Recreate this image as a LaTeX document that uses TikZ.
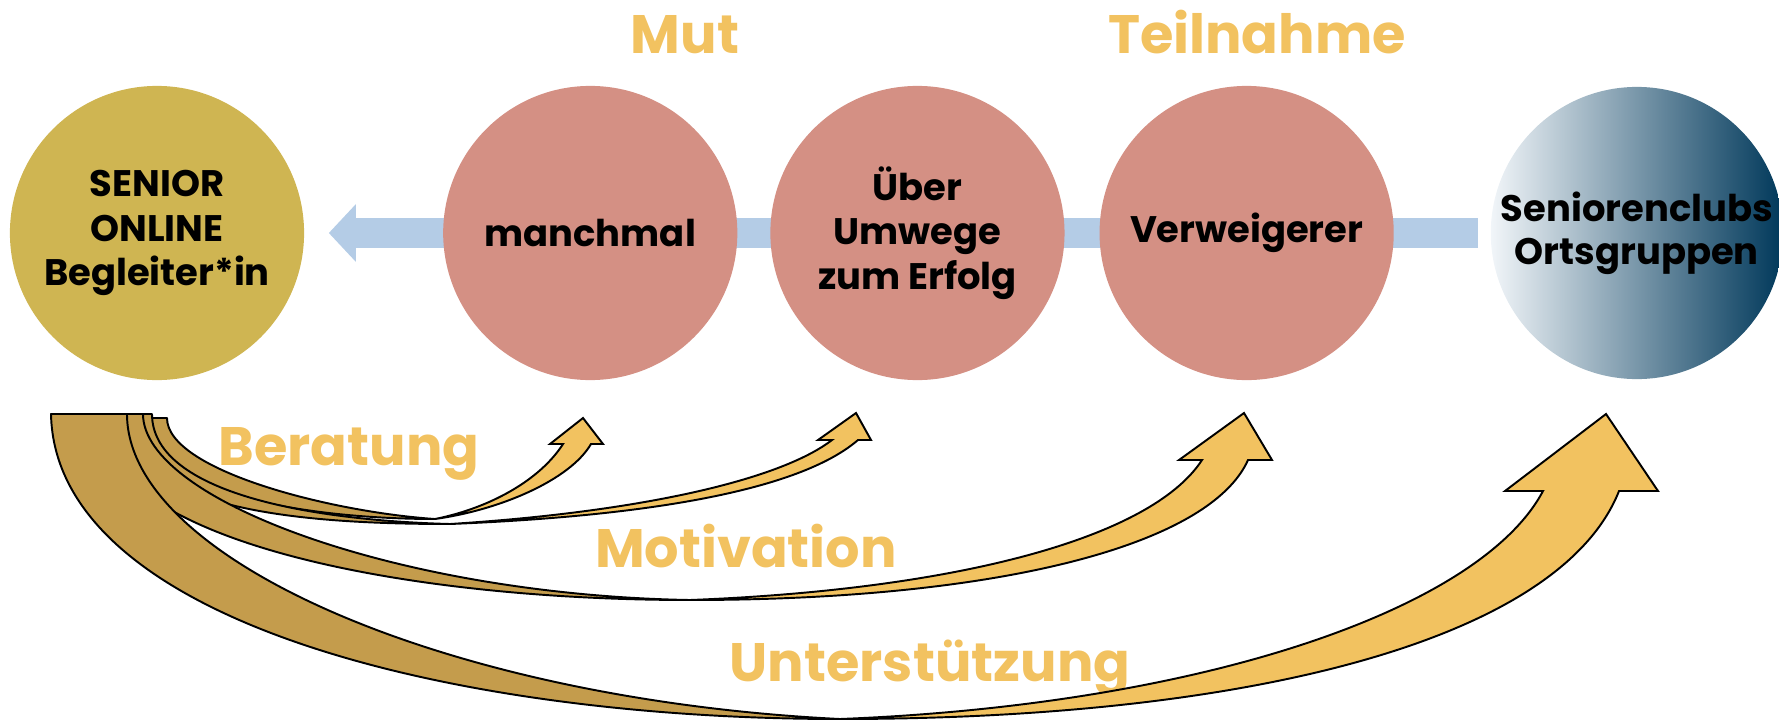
\documentclass[tikz,border=0pt]{standalone}
\usepackage{fontspec}
\setmainfont{Poppins}
\usepackage{xcolor}
\usepackage{tikz}
\usetikzlibrary{arrows.meta,backgrounds}

\definecolor{seniorgold}{RGB}{207,181,82}
\definecolor{stagepink}{RGB}{212,144,132}
\definecolor{clubmid}{RGB}{84,134,178}
\definecolor{clubdark}{RGB}{0,56,90}
\definecolor{flowblue}{RGB}{180,204,230}
\definecolor{wordyellow}{RGB}{242,194,96}
\definecolor{ribbonback}{RGB}{196,156,76}
\definecolor{ribbonfront}{RGB}{242,194,96}

\begin{document}
\begin{tikzpicture}[x=0.01cm, y=-0.01cm, node distance=3.27cm]
		% Define styles with simple colors
		\tikzstyle{guide} = [circle, minimum size=2.94cm, inner sep=0pt, align=center, fill=seniorgold, font=\bfseries\fontsize{10.5pt}{12.7pt}\selectfont]
		\tikzstyle{stage} = [circle, minimum size=2.94cm, inner sep=0pt, align=center, fill=stagepink, font=\bfseries\fontsize{10.5pt}{12.7pt}\selectfont]
		\tikzstyle{club} = [circle, minimum size=2.92cm, inner sep=0pt, align=center, left color=white!92!clubmid, middle color=clubmid, right color=clubdark, font=\bfseries\fontsize{10.5pt}{12.2pt}\selectfont]
		\tikzstyle{keyword} = [anchor=base, inner sep=0pt, text=wordyellow, font=\bfseries\fontsize{15.4pt}{18pt}\selectfont]
		\tikzstyle{flow} = [line width=0.3cm, draw=flowblue, -{Triangle[length=0.27cm, width=0.56cm]}, shorten <=0.12cm, shorten >=0.24cm]
		\tikzstyle{back} = [fill=ribbonback, draw=black, line width=0.55pt, line join=round]
		\tikzstyle{front} = [fill=ribbonfront, draw=black, line width=0.55pt, line join=miter]

		\useasboundingbox (0,0) rectangle (1779,721);

		% Nodes
		\node[guide] (senior) at (157,233) {SENIOR\\ONLINE\\Begleiter*in};
		\node[stage, right of=senior, xshift=1.06cm] (manchmal) {manchmal};
		\node[stage, right of=manchmal] (umwege) {Über\\Umwege\\zum Erfolg};
		\node[stage, right of=umwege, xshift=0.02cm] (verweigerer) {Verweigerer};
		\node[club, right of=verweigerer, xshift=0.63cm] (clubs) {Seniorenclubs\\Ortsgruppen};

		% Flow arrow behind the circles
		\begin{scope}[on background layer]
			\draw[flow] (clubs) -- (senior);
		\end{scope}

		% Key words
		\node[keyword] (mut) at (685,53) {Mut};
		\node[keyword] (teilnahme) at (1257,53) {Teilnahme};
		\node[keyword] (beratung) at (349,465) {Beratung};
		\node[keyword] (motivation) at (746,567) {Motivation};
		\node[keyword] (unterstuetzung) at (930,681) {Unterstützung};

		% Curved arrows (back side, then front side)
		\filldraw[back] (139,418) .. controls (139,490) and (300,519) .. (435,519)
			.. controls (330,512) and (167,470) .. (167,418) -- cycle;
		\filldraw[front] (435,519) .. controls (500,510) and (570,480) .. (591,444)
			-- (603,444) -- (583,418) -- (550,444) -- (563,444)
			.. controls (540,480) and (490,508) .. (435,519) -- cycle;

		\filldraw[back] (125,414) .. controls (125,510) and (300,524) .. (450,524)
			.. controls (300,520) and (152,490) .. (152,414) -- cycle;
		\filldraw[front] (450,524) .. controls (650,516) and (800,490) .. (858,440)
			-- (871,440) -- (856,413) -- (818,440) -- (832,440)
			.. controls (780,480) and (640,512) .. (450,524) -- cycle;

		\filldraw[back] (97,414) .. controls (97,540) and (400,600) .. (690,600)
			.. controls (400,595) and (143,500) .. (143,414) -- cycle;
		\filldraw[front] (690,600) .. controls (1000,600) and (1210,545) .. (1248,460)
			-- (1272,460) -- (1244,413) -- (1179,460) -- (1202,460)
			.. controls (1150,540) and (950,590) .. (690,600) -- cycle;

		\filldraw[back] (51,414) .. controls (55,620) and (450,719) .. (840,719)
			.. controls (450,700) and (127,560) .. (127,414) -- cycle;
		\filldraw[front] (840,719) .. controls (1250,719) and (1560,640) .. (1619,491)
			-- (1658,491) -- (1606,414) -- (1505,491) -- (1543,491)
			.. controls (1480,610) and (1200,705) .. (840,719) -- cycle;
	\end{tikzpicture}
\end{document}
